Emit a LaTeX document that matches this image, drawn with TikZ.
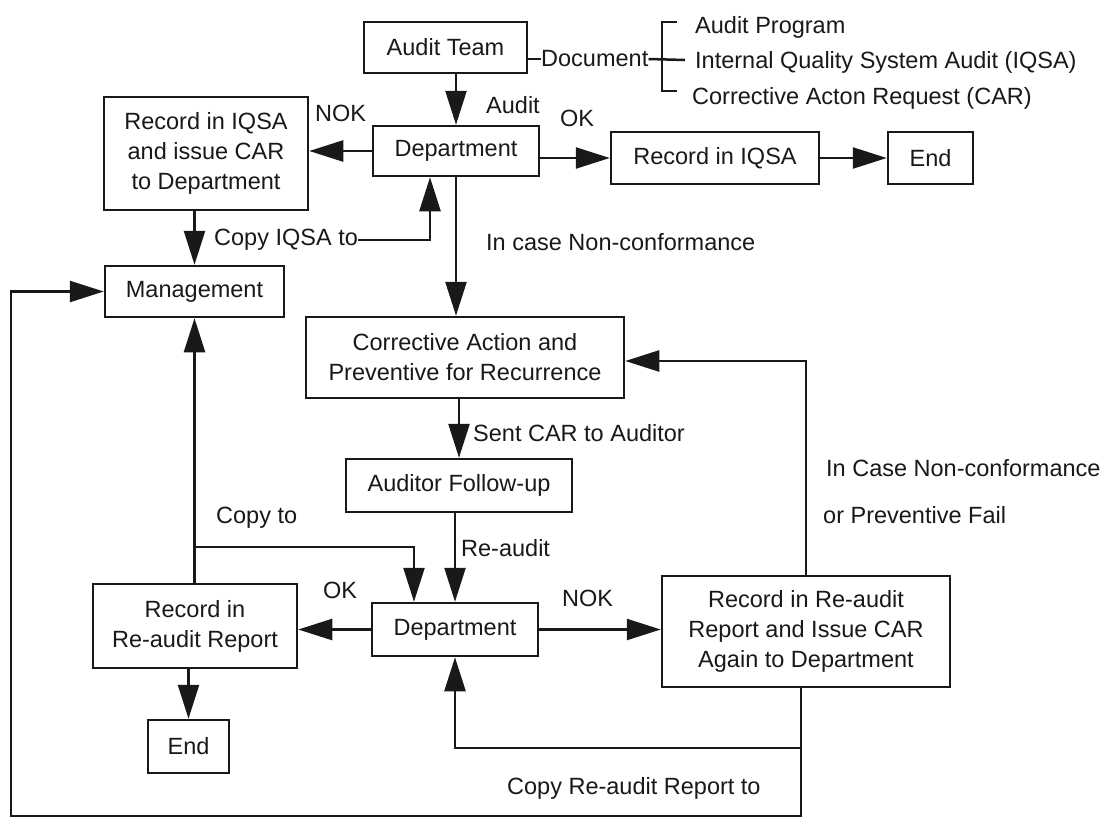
\documentclass[tikz,border=0pt]{standalone}
\usepackage{fontspec}
\setmainfont{Liberation Sans}
\usetikzlibrary{arrows.meta}
\begin{document}
\begin{tikzpicture}[x=1pt,y=-1pt,
  every node/.style={font=\fontsize{23.5}{30}\selectfont, inner sep=0pt, text=black!90},
  box/.style={draw=black!90, line width=2.5pt, align=center},
  wire/.style={draw=black!90, line width=2.5pt},
  conn/.style={wire, -{Triangle[length=34pt,width=21pt]}},
  lbl/.style={anchor=west}]
\fill[white] (0,0) rectangle (1107,822);
\useasboundingbox (0,0) rectangle (1107,822);

% process boxes
\node[box, minimum width=163pt, minimum height=51pt] (team) at (445.5,47.5) {Audit Team};
\node[box, minimum width=166pt, minimum height=50pt] (dep1) at (456,151) {Department};
\node[box, minimum width=204pt, minimum height=113pt] (carL) at (206,153.5) {Record in IQSA\\and issue CAR\\to Department};
\node[box, minimum width=179pt, minimum height=51pt] (mgmt) at (194.5,291.5) {Management};
\node[box, minimum width=208pt, minimum height=52pt] (recR) at (715,158) {Record in IQSA};
\node[box, minimum width=85pt, minimum height=52pt] (end1) at (930.5,158) {End};
\node[box, minimum width=318pt, minimum height=81pt] (corr) at (465,357.5) {Corrective Action and\\Preventive for Recurrence};
\node[box, minimum width=226pt, minimum height=53pt] (follow) at (459,485.5) {Auditor Follow-up};
\node[box, minimum width=166pt, minimum height=53pt] (dep2) at (455,629.5) {Department};
\node[box, minimum width=204pt, minimum height=84pt] (reRec) at (195,626) {Record in\\Re-audit Report};
\node[box, minimum width=81pt, minimum height=53pt] (end2) at (188.5,746.5) {End};
\node[box, minimum width=288pt, minimum height=111pt] (reCar) at (806,631.5) {Record in Re-audit\\Report and Issue CAR\\Again to Department};

% document list with bracket
\node[lbl] (doc) at (541,59) {Document};
\node[lbl] (ap) at (695,27) {Audit Program};
\node[lbl] (iqsa) at (695,62) {Internal Quality System Audit (IQSA)};
\node[lbl] (car) at (692,98) {Corrective Acton Request (CAR)};
\coordinate (brk) at (685,60);
\draw[wire] (team.east |- doc.west) -- (doc.west);
\draw[wire] (677,22) -| (662,91) -- (677,91);
\draw[wire] (doc.east) -- (brk);

% labels
\node[lbl] (lAudit) at (486,105) {Audit};
\node[lbl] (lNok1) at (315,113) {NOK};
\node[lbl] (lOk1) at (560,118) {OK};
\node[lbl] (cpy1) at (214,240) {Copy IQSA to};
\node[lbl] (lCase) at (486,242) {In case Non-conformance};
\node[lbl] (lSent) at (473,433) {Sent CAR to Auditor};
\node[lbl] (lCopy) at (216,518) {Copy to};
\node[lbl] (lRe) at (461,548) {Re-audit};
\node[lbl] (lOk2) at (323,590) {OK};
\node[lbl] (lNok2) at (562,598) {NOK};
\node[lbl] (lFail1) at (826,468) {In Case Non-conformance};
\node[lbl] (lFail2) at (823,515) {or Preventive Fail};
\node[lbl] (lCpy2) at (507,788) {Copy Re-audit Report to};

% upper flow
\draw[conn] (team.south -| dep1.north) -- (dep1.north);
\draw[conn] (dep1.west) -- (dep1.west -| carL.east);
\draw[conn] (dep1.east |- recR.west) -- (recR.west);
\draw[conn] (recR) -- (end1);
\draw[conn] (carL.south -| mgmt.north) -- (mgmt.north);
\coordinate (c1) at (430,242);
\draw[conn] (cpy1.east) -| (c1 |- dep1.south);
\draw[conn] (dep1.south) -- (dep1.south |- corr.north);

% follow-up flow
\draw[conn] (corr.south -| follow.north) -- (follow.north);
\draw[conn] (follow.south -| dep2.north) -- (dep2.north);
\draw[conn] (reRec.north -| mgmt.south) -- (mgmt.south);
\coordinate (c2) at (194.5,547);
\coordinate (c3) at (414,547);
\draw[conn] (c2) -- (c3) -- (c3 |- dep2.north);
\draw[conn] (dep2.west) -- (dep2.west -| reRec.east);
\draw[conn] (dep2.east) -- (dep2.east -| reCar.west);
\draw[conn] (reRec.south -| end2.north) -- (end2.north);

% feedback loops
\coordinate (fb) at (806,361);
\draw[conn] (reCar.north) -- (reCar.north |- fb) -- (fb -| corr.east);
\coordinate (j) at (801,748);
\coordinate (b1) at (801,816);
\coordinate (b2) at (11,816);
\draw[conn] (reCar.south -| j) -- (b1) -- (b2) |- (mgmt.west);
\draw[conn] (j) -| (dep2.south);
\end{tikzpicture}
\end{document}
